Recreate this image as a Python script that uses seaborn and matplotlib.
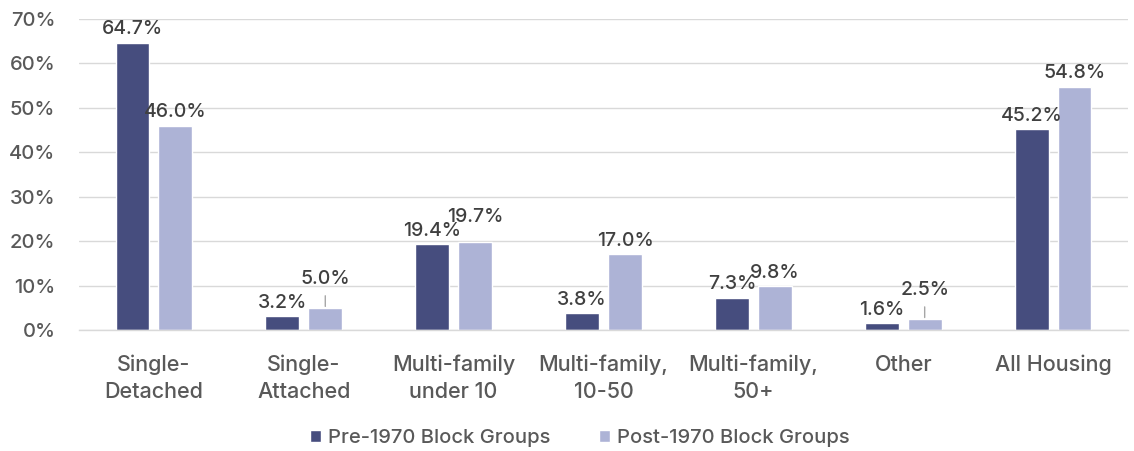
import matplotlib
matplotlib.use("Agg")
import matplotlib.pyplot as plt
import seaborn as sns
import pandas as pd

# Housing type shares by block-group era (percent)
categories = ["Single-\nDetached", "Single-\nAttached", "Multi-family\nunder 10",
              "Multi-family,\n10-50", "Multi-family,\n50+", "Other", "All Housing"]
pre_1970 = [64.7, 3.2, 19.4, 3.8, 7.3, 1.6, 45.2]
post_1970 = [46.0, 5.0, 19.7, 17.0, 9.8, 2.5, 54.8]
series_names = ["Pre-1970 Block Groups", "Post-1970 Block Groups"]
y_ticks = [0, 10, 20, 30, 40, 50, 60, 70]

PRE_COLOR = "#464d7e"
POST_COLOR = "#adb3d6"
LABEL_COLOR = "#404040"
TICK_COLOR = "#595959"
GRID_COLOR = "#d9d9d9"

df = pd.DataFrame({
    "category": categories * 2,
    "share": pre_1970 + post_1970,
    "series": [series_names[0]] * len(categories) + [series_names[1]] * len(categories),
})

sns.set_theme(style="white")
plt.rcParams["font.family"] = ["Inter", "DejaVu Sans"]
plt.rcParams["font.weight"] = "medium"

fig = plt.figure(figsize=(11.34, 4.51), dpi=100)
ax = fig.add_axes([0.0697, 0.2683, 0.9250, 0.6896])

sns.barplot(data=df, x="category", y="share", hue="series",
            palette=[PRE_COLOR, POST_COLOR], width=0.573, gap=0.21,
            saturation=1, ax=ax, legend=True)

ax.set_ylim(0, 70)
ax.set_xlim(-0.5, len(categories) - 0.5)
ax.set_yticks(y_ticks)
ax.set_yticklabels([f"{t}%" for t in y_ticks], fontsize=14.5, color=TICK_COLOR)
ax.tick_params(axis="x", labelsize=15.5, colors=TICK_COLOR, length=0, pad=18)
ax.tick_params(axis="y", length=0, pad=17)
for lbl in ax.get_xticklabels():
    lbl.set_linespacing(1.4)
ax.set_xlabel("")
ax.set_ylabel("")

ax.yaxis.grid(True, color=GRID_COLOR, linewidth=1)
ax.set_axisbelow(True)
for side in ["left", "right", "top"]:
    ax.spines[side].set_visible(False)
ax.spines["bottom"].set_color(GRID_COLOR)
ax.spines["bottom"].set_linewidth(1)

# Extra lift (points) for crowded labels; those lifted far get a leader line
lift = {(1, 1): 11, (1, 5): 11, (1, 2): 9}
leader = {(1, 1), (1, 5)}

for s, container in enumerate(ax.containers):
    for i, bar in enumerate(container):
        v = bar.get_height()
        x = bar.get_x() + bar.get_width() / 2
        dy = 3 + lift.get((s, i), 0)
        arrow = None
        if (s, i) in leader:
            arrow = dict(arrowstyle="-", color="#a6a6a6", lw=1, shrinkA=3, shrinkB=1)
        ax.annotate(f"{v:.1f}%", xy=(x, v), xytext=(0, dy), textcoords="offset points",
                    ha="center", va="bottom", fontsize=14, color=LABEL_COLOR,
                    arrowprops=arrow)

handles, labels = ax.get_legend_handles_labels()
ax.get_legend().remove()
fig.legend(handles, labels, loc="center", bbox_to_anchor=(0.511, 0.029), ncol=2,
           frameon=False, fontsize=14.5, handlelength=0.55, handleheight=0.55,
           handletextpad=0.35, columnspacing=2.4, labelcolor=TICK_COLOR)

fig.savefig("out.png", dpi=100)
